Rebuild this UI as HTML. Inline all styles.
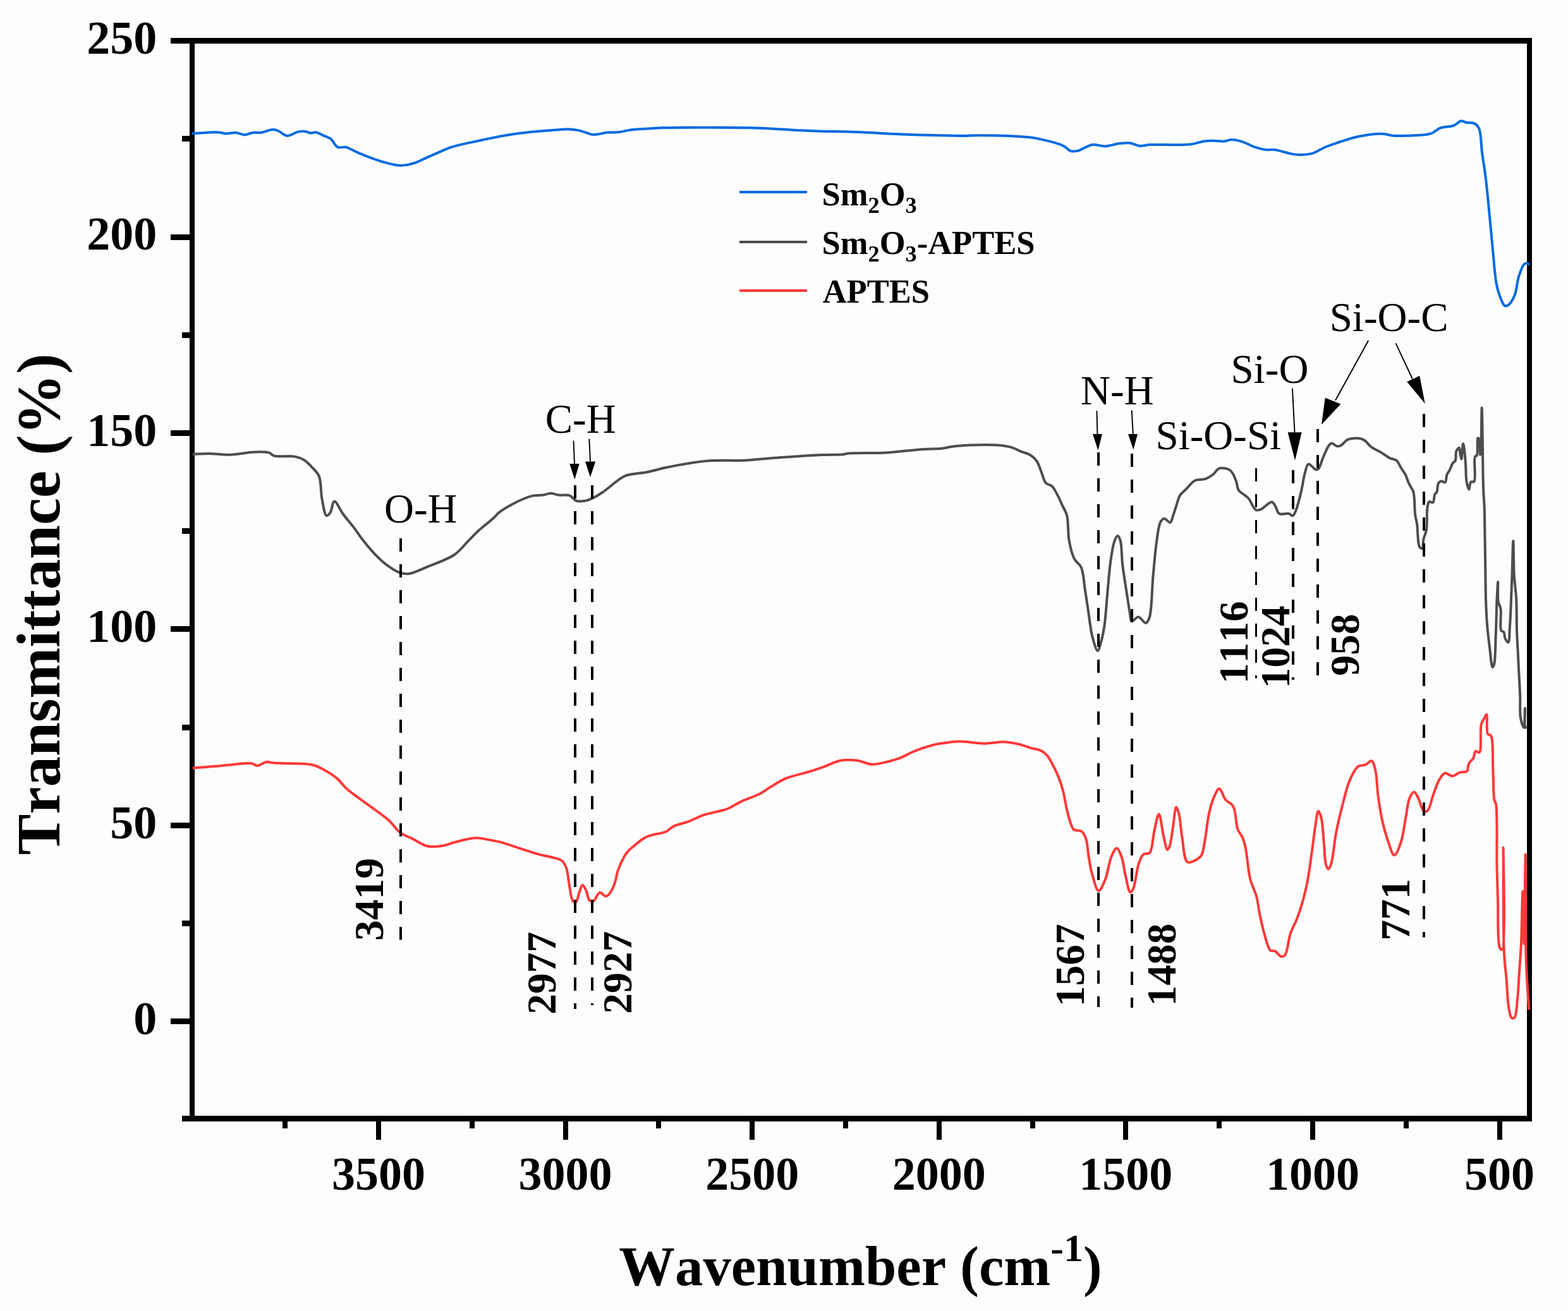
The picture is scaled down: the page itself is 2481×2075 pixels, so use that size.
<!DOCTYPE html>
<html><head><meta charset="utf-8"><title>FTIR spectra</title>
<style>
html,body{margin:0;padding:0;background:#fdfdfd;}
body{width:2481px;height:2075px;overflow:hidden;}
svg{display:block;}
text{font-family:"Liberation Serif","Times New Roman",serif;font-kerning:none;}
.b{font-weight:bold;}
</style></head><body>
<svg width="2481" height="2075" viewBox="0 0 2481 2075">
<rect x="0" y="0" width="2481" height="2075" fill="#fdfdfd"/>
<g fill="#000">
<rect x="300" y="60" width="8" height="1715"/>
<rect x="2416" y="60" width="8" height="1715"/>
<rect x="270" y="60" width="2154" height="9"/>
<rect x="288" y="1766" width="2136" height="9"/>
<rect x="270" y="371" width="31" height="9"/>
<rect x="270" y="681" width="31" height="9"/>
<rect x="270" y="991" width="31" height="9"/>
<rect x="270" y="1302" width="31" height="9"/>
<rect x="270" y="1612" width="31" height="9"/>
<rect x="288" y="215" width="13" height="9"/>
<rect x="288" y="526" width="13" height="9"/>
<rect x="288" y="836" width="13" height="9"/>
<rect x="288" y="1147" width="13" height="9"/>
<rect x="288" y="1457" width="13" height="9"/>
<rect x="595" y="1770" width="8" height="34"/>
<rect x="891" y="1770" width="8" height="34"/>
<rect x="1186" y="1770" width="8" height="34"/>
<rect x="1482" y="1770" width="8" height="34"/>
<rect x="1777" y="1770" width="8" height="34"/>
<rect x="2073" y="1770" width="8" height="34"/>
<rect x="2369" y="1770" width="8" height="34"/>
<rect x="447" y="1770" width="8" height="16"/>
<rect x="743" y="1770" width="8" height="16"/>
<rect x="1038" y="1770" width="8" height="16"/>
<rect x="1334" y="1770" width="8" height="16"/>
<rect x="1630" y="1770" width="8" height="16"/>
<rect x="1925" y="1770" width="8" height="16"/>
<rect x="2221" y="1770" width="8" height="16"/>
</g>
<defs><clipPath id="pc"><rect x="303.5" y="60" width="2117.5" height="1715"/></clipPath></defs>
<g clip-path="url(#pc)" fill="none" stroke-width="4" stroke-linejoin="round" stroke-linecap="butt">
<path stroke="rgb(0,107,224)" d="M304.0,211.4 C317.9,210.7 336.2,208.8 345.7,209.4 C350.7,209.7 352.9,211.2 357.0,211.4 C361.8,211.6 367.8,209.6 372.9,210.0 C377.8,210.4 382.4,213.4 387.0,213.4 C391.4,213.4 395.5,210.6 400.0,210.0 C404.5,209.4 409.1,210.4 414.0,209.7 C419.5,208.9 426.6,205.2 431.4,205.1 C434.8,205.0 436.9,205.8 440.0,207.0 C444.3,208.6 449.2,214.5 454.3,214.9 C459.7,215.3 466.2,209.7 471.4,208.6 C475.6,207.7 479.5,207.6 483.0,208.0 C486.1,208.4 488.6,210.4 491.4,210.6 C494.2,210.8 497.0,209.0 500.0,209.4 C503.6,209.9 507.6,212.6 511.4,214.3 C515.2,216.0 519.4,216.7 522.9,219.4 C527.1,222.6 529.9,230.8 534.3,232.9 C538.1,234.7 542.5,231.9 547.0,232.9 C552.8,234.1 559.3,238.7 565.7,241.4 C572.2,244.2 578.8,246.9 585.7,249.4 C593.0,252.1 600.7,254.9 608.6,257.0 C616.9,259.2 626.0,262.0 634.3,262.0 C642.1,262.0 650.4,259.8 657.0,257.7 C662.3,256.0 665.5,253.9 671.0,251.4 C678.9,247.9 692.0,242.0 700.0,238.6 C705.6,236.3 708.2,234.8 714.3,232.9 C724.6,229.6 742.7,226.0 757.0,222.9 C771.3,219.8 785.6,216.7 800.0,214.3 C814.3,211.9 830.1,210.0 843.0,208.6 C853.4,207.5 861.9,207.0 871.4,206.3 C880.9,205.6 891.7,204.4 900.0,204.6 C906.4,204.8 911.2,205.3 917.0,206.6 C923.5,208.0 931.4,212.2 937.0,212.9 C940.9,213.4 943.5,212.8 947.0,212.3 C951.1,211.8 955.2,210.3 960.0,209.7 C965.9,209.0 973.6,209.8 980.0,209.1 C985.9,208.4 990.9,206.5 997.0,205.7 C1004.1,204.7 1011.9,204.5 1020.0,204.0 C1029.0,203.4 1035.5,202.7 1048.6,202.3 C1077.2,201.4 1153.7,201.6 1185.7,202.3 C1203.0,202.7 1213.5,203.4 1225.7,204.0 C1235.9,204.5 1243.8,205.2 1254.0,205.7 C1266.2,206.3 1279.2,206.9 1294.0,207.4 C1312.6,208.0 1336.0,208.3 1357.0,209.1 C1378.0,209.9 1398.8,211.4 1420.0,212.3 C1441.7,213.2 1466.1,213.9 1485.7,214.3 C1501.5,214.7 1517.0,215.0 1528.6,214.9 C1536.5,214.8 1539.8,214.3 1548.6,214.3 C1565.9,214.4 1607.6,215.3 1625.7,217.1 C1635.6,218.1 1641.0,219.3 1648.6,220.9 C1656.2,222.5 1665.1,224.7 1671.4,226.6 C1675.9,228.0 1679.2,228.9 1682.9,230.9 C1686.9,233.0 1690.3,237.9 1694.3,239.1 C1697.9,240.2 1701.3,239.6 1705.7,238.6 C1712.1,237.2 1721.1,230.2 1728.6,229.1 C1735.4,228.2 1741.7,231.6 1748.6,231.4 C1756.0,231.1 1764.3,227.9 1771.4,227.1 C1777.5,226.4 1783.2,225.9 1788.6,226.6 C1793.6,227.3 1797.9,230.4 1802.9,230.9 C1808.3,231.4 1812.5,229.5 1820.0,229.1 C1834.4,228.3 1867.2,230.4 1882.9,228.6 C1892.5,227.5 1898.6,224.3 1905.7,223.4 C1911.8,222.6 1917.5,222.8 1922.9,222.9 C1927.8,223.0 1932.6,224.1 1937.0,223.7 C1941.1,223.3 1944.3,221.0 1948.6,220.9 C1953.7,220.8 1959.9,222.5 1965.7,224.3 C1972.2,226.3 1979.2,230.7 1985.7,232.9 C1991.6,234.9 1997.4,236.4 2002.9,237.1 C2007.8,237.7 2011.6,236.5 2017.0,237.1 C2024.4,238.0 2035.5,242.1 2042.9,243.4 C2048.3,244.4 2052.1,245.0 2057.0,245.1 C2062.4,245.2 2069.8,244.3 2074.0,243.4 C2076.5,242.9 2077.5,242.4 2080.0,241.4 C2084.6,239.5 2092.4,234.7 2098.8,232.0 C2105.0,229.4 2110.5,227.8 2117.6,225.5 C2126.8,222.5 2138.3,218.3 2149.5,216.0 C2161.4,213.6 2177.0,211.4 2187.0,211.7 C2193.8,211.9 2197.9,214.2 2204.0,214.7 C2211.0,215.3 2218.1,215.1 2226.6,214.7 C2237.6,214.2 2254.8,214.5 2264.2,211.4 C2270.6,209.3 2273.6,204.4 2279.2,202.3 C2285.4,200.0 2294.2,200.9 2300.0,198.8 C2304.7,197.1 2308.2,192.1 2312.0,191.6 C2315.0,191.2 2317.5,193.4 2320.6,194.0 C2324.3,194.7 2329.5,193.7 2332.8,195.4 C2336.0,197.0 2338.4,199.6 2340.3,203.8 C2343.8,211.5 2343.3,228.7 2345.0,241.4 C2346.8,254.4 2348.9,266.7 2350.7,280.9 C2352.8,297.6 2354.5,316.8 2356.3,335.4 C2358.2,355.0 2360.1,376.2 2362.0,395.6 C2363.8,413.7 2365.1,434.8 2367.6,448.2 C2369.2,456.8 2370.8,462.7 2373.2,468.9 C2375.3,474.4 2377.8,482.4 2380.8,483.9 C2382.5,484.8 2384.5,484.2 2386.4,483.0 C2389.8,480.8 2394.0,473.5 2396.7,467.0 C2400.1,458.8 2400.3,445.8 2403.3,437.0 C2405.8,429.6 2408.9,419.3 2412.7,417.2 C2415.0,416.0 2417.7,417.8 2420.2,418.1"/>
<path stroke="rgb(77,77,77)" d="M304.8,719.0 C313.5,718.6 321.7,717.8 331.0,717.9 C341.4,718.0 352.8,720.1 364.3,719.8 C376.6,719.5 391.2,715.8 402.4,715.5 C411.2,715.2 420.8,714.9 426.2,716.7 C429.5,717.8 429.8,720.3 433.3,721.4 C440.2,723.6 458.0,720.9 466.7,722.6 C472.6,723.8 476.5,725.2 481.0,728.0 C486.1,731.1 491.1,736.7 495.2,741.2 C498.9,745.3 502.5,748.1 504.8,753.8 C508.4,762.4 507.3,779.0 509.5,790.0 C511.4,799.5 513.4,815.2 516.7,816.2 C518.4,816.8 520.9,813.8 522.6,811.4 C525.3,807.6 526.0,794.0 529.0,793.6 C532.5,793.2 537.8,806.9 542.9,813.8 C548.6,821.5 556.4,830.3 561.9,837.6 C566.4,843.6 569.2,848.4 573.8,854.3 C579.3,861.4 586.6,870.2 592.9,876.9 C598.5,882.7 603.2,887.6 609.5,892.4 C616.5,897.7 626.1,904.4 633.3,906.7 C638.5,908.4 642.1,908.7 647.6,907.9 C655.6,906.8 665.8,901.4 676.2,897.1 C689.1,891.8 707.7,885.7 719.0,878.0 C728.1,871.8 733.8,863.4 740.5,856.7 C746.4,850.8 750.9,845.6 757.0,840.0 C763.9,833.7 774.0,826.3 780.0,820.8 C784.1,817.1 785.8,814.2 790.0,810.9 C795.8,806.4 804.1,801.4 812.2,797.2 C821.2,792.6 833.2,787.0 841.9,784.9 C848.3,783.4 853.9,784.4 859.2,783.6 C863.7,782.9 867.5,780.7 871.6,780.7 C875.7,780.7 879.5,783.0 884.0,783.6 C889.3,784.3 896.6,782.3 901.3,784.1 C905.4,785.6 907.4,790.8 911.2,792.3 C914.9,793.7 919.3,793.6 923.6,793.0 C928.4,792.4 933.7,790.3 938.5,788.1 C943.6,785.8 947.9,782.9 953.4,779.2 C960.7,774.2 971.0,764.8 978.0,760.1 C982.7,756.9 985.1,754.7 990.5,752.7 C998.9,749.6 1014.2,749.2 1025.0,747.0 C1034.7,745.0 1042.4,742.5 1052.4,740.3 C1064.4,737.7 1079.2,734.8 1092.0,732.9 C1103.9,731.1 1114.1,729.8 1126.7,729.1 C1141.7,728.2 1159.7,729.4 1176.2,728.7 C1192.7,728.0 1207.5,726.0 1225.7,724.7 C1248.0,723.1 1280.1,720.8 1300.0,720.0 C1313.3,719.4 1325.6,720.1 1333.3,719.3 C1337.5,718.9 1338.3,718.1 1342.9,717.6 C1354.2,716.5 1382.6,717.5 1402.4,716.4 C1422.3,715.3 1445.6,712.1 1461.9,711.0 C1473.1,710.3 1482.3,710.7 1490.5,709.8 C1496.8,709.1 1500.8,707.5 1507.1,706.7 C1515.3,705.6 1525.2,704.9 1535.7,704.5 C1548.5,704.0 1566.8,703.6 1578.6,704.5 C1587.0,705.2 1593.4,706.0 1600.0,707.9 C1606.0,709.7 1611.6,713.2 1616.7,715.2 C1621.0,716.9 1624.8,717.1 1628.6,719.3 C1632.8,721.8 1637.4,725.6 1640.5,730.0 C1643.8,734.7 1645.2,741.0 1647.6,746.7 C1650.0,752.5 1651.3,760.7 1654.8,764.5 C1657.4,767.3 1661.6,766.9 1664.3,769.3 C1667.2,771.9 1669.0,775.8 1671.4,780.0 C1674.6,785.6 1678.1,793.9 1681.0,800.2 C1683.6,805.7 1686.4,809.1 1688.1,815.7 C1690.8,825.8 1689.4,844.0 1691.7,856.2 C1693.7,866.7 1696.1,877.4 1700.0,884.8 C1702.9,890.4 1708.0,892.0 1710.7,897.9 C1714.5,906.3 1714.9,921.2 1716.7,932.4 C1718.4,943.0 1719.6,952.0 1721.4,963.3 C1723.5,977.0 1725.3,996.4 1728.6,1008.6 C1730.9,1017.2 1734.4,1030.0 1736.9,1030.0 C1739.1,1030.0 1741.2,1019.4 1742.9,1013.3 C1744.9,1006.1 1746.2,999.0 1747.6,989.5 C1749.6,975.5 1750.8,954.1 1752.4,937.1 C1753.9,920.8 1755.1,903.8 1757.1,889.5 C1758.8,877.7 1760.5,864.8 1763.1,857.4 C1764.6,853.1 1766.6,847.9 1768.3,847.9 C1769.8,847.9 1771.4,851.5 1772.6,855.0 C1775.1,862.7 1774.6,880.6 1776.2,894.3 C1778.0,909.4 1781.2,928.1 1783.3,941.9 C1784.9,952.4 1786.3,962.2 1787.7,969.8 C1788.7,975.1 1788.2,982.3 1790.6,983.3 C1792.9,984.3 1797.7,976.4 1801.3,976.6 C1805.2,976.9 1809.9,986.6 1812.9,986.2 C1815.4,985.8 1817.1,982.1 1818.7,977.5 C1822.7,966.0 1822.5,932.8 1824.5,911.7 C1826.4,892.2 1827.9,871.1 1830.3,855.5 C1832.0,844.2 1833.0,832.2 1836.1,826.5 C1837.7,823.5 1839.7,820.9 1842.0,820.7 C1844.7,820.4 1849.2,827.7 1851.6,826.9 C1854.1,826.1 1854.9,819.1 1856.5,814.9 C1858.2,810.3 1859.6,805.4 1861.3,800.4 C1863.1,795.1 1864.3,788.4 1867.1,783.9 C1869.6,779.9 1873.3,777.7 1876.8,774.2 C1880.9,770.1 1885.1,763.4 1890.4,760.7 C1895.5,758.1 1902.7,759.6 1907.8,757.8 C1912.2,756.2 1915.9,753.7 1919.4,751.0 C1923.0,748.2 1925.1,742.7 1929.1,741.3 C1933.4,739.8 1940.9,741.5 1944.6,743.3 C1947.3,744.6 1948.7,746.6 1950.4,749.1 C1952.7,752.5 1954.6,758.0 1956.2,762.6 C1957.8,767.1 1957.6,772.6 1960.0,776.2 C1962.2,779.6 1966.9,781.6 1969.7,783.9 C1971.9,785.7 1973.4,786.4 1975.5,788.8 C1979.0,792.8 1983.1,805.1 1987.2,807.1 C1989.7,808.3 1992.0,807.3 1994.9,806.2 C1999.7,804.4 2008.2,794.0 2012.3,794.6 C2015.0,795.0 2016.3,798.6 2018.1,801.3 C2020.3,804.6 2020.7,811.0 2024.0,813.0 C2027.6,815.2 2035.6,812.0 2039.4,813.0 C2041.9,813.7 2043.5,816.8 2045.2,816.4 C2047.1,816.0 2048.4,812.5 2050.0,809.1 C2053.0,802.5 2056.3,788.3 2058.8,778.1 C2061.2,768.3 2062.3,757.0 2064.6,749.1 C2066.3,743.3 2067.4,735.3 2070.4,734.5 C2073.3,733.7 2079.0,742.7 2082.0,743.3 C2083.6,743.6 2084.6,743.4 2085.9,742.3 C2088.7,739.9 2090.9,730.0 2093.6,723.9 C2096.4,717.7 2099.5,709.2 2102.4,705.5 C2104.0,703.5 2105.3,701.7 2107.2,701.6 C2109.4,701.4 2112.5,705.6 2115.0,706.1 C2117.0,706.5 2118.7,706.4 2120.8,705.5 C2124.2,704.1 2128.7,697.6 2132.4,695.8 C2135.0,694.5 2137.2,694.3 2140.0,694.0 C2143.5,693.6 2148.4,693.3 2151.8,694.0 C2154.6,694.5 2156.7,695.3 2159.2,697.0 C2162.6,699.3 2165.8,704.5 2169.6,707.4 C2173.3,710.2 2178.0,712.0 2181.5,714.0 C2184.3,715.6 2186.2,716.8 2188.9,718.5 C2192.1,720.5 2195.7,723.4 2199.2,725.1 C2202.6,726.8 2206.7,726.5 2209.6,728.8 C2212.8,731.4 2214.5,736.7 2217.0,740.7 C2219.5,744.6 2222.4,748.5 2224.4,752.5 C2226.3,756.4 2227.0,760.6 2228.8,764.4 C2230.5,768.0 2233.4,772.3 2234.7,774.7 C2235.4,776.0 2235.8,776.4 2236.2,777.7 C2236.9,780.1 2237.3,783.8 2237.7,788.0 C2238.4,794.8 2238.3,807.1 2239.2,814.7 C2239.9,820.4 2241.3,823.7 2242.1,829.5 C2243.2,837.6 2243.2,852.6 2244.4,859.1 C2245.0,862.4 2245.3,865.1 2246.6,866.5 C2247.5,867.5 2249.4,868.5 2250.3,868.0 C2252.1,867.0 2251.4,858.1 2252.5,853.2 C2253.6,848.2 2256.0,844.4 2257.0,838.4 C2258.5,829.4 2257.1,812.3 2258.4,804.3 C2259.1,799.8 2259.5,795.1 2261.4,794.0 C2262.8,793.2 2265.9,796.3 2267.3,795.4 C2269.5,794.0 2268.8,784.8 2270.3,782.1 C2271.1,780.6 2272.4,780.7 2273.2,779.2 C2274.8,776.3 2274.3,767.3 2276.2,764.4 C2277.3,762.7 2279.0,761.6 2280.6,761.4 C2282.4,761.2 2285.1,764.4 2286.6,763.6 C2288.7,762.5 2288.1,754.5 2289.5,751.0 C2290.7,748.1 2292.6,746.3 2294.0,743.6 C2295.6,740.5 2296.7,735.9 2298.4,733.3 C2299.7,731.3 2301.8,731.0 2302.8,728.8 C2304.4,725.5 2302.8,717.5 2304.3,714.0 C2305.3,711.6 2307.8,708.5 2308.8,708.8 C2309.9,709.1 2309.6,714.2 2310.2,717.0 C2310.8,720.1 2311.9,726.6 2312.5,726.6 C2313.3,726.5 2313.5,714.1 2314.0,709.6 C2314.3,706.6 2314.6,702.2 2315.0,702.2 C2315.5,702.2 2316.3,707.3 2316.9,711.0 C2317.8,717.2 2318.5,727.7 2319.1,736.2 C2319.7,745.0 2319.3,755.9 2320.6,762.9 C2321.5,767.7 2323.2,774.7 2324.3,774.7 C2325.4,774.7 2325.3,764.7 2327.3,762.9 C2328.6,761.7 2331.1,763.6 2332.4,762.1 C2336.0,758.1 2331.3,727.8 2333.9,722.9 C2334.7,721.4 2336.1,722.1 2336.9,720.7 C2339.0,716.8 2336.5,694.2 2338.4,693.3 C2339.0,693.0 2340.0,693.8 2340.6,694.8 C2342.4,698.0 2341.6,720.0 2342.1,720.0 C2342.6,720.0 2343.2,705.7 2343.6,696.3 C2344.2,682.5 2344.2,645.2 2344.6,645.2 C2345.0,645.2 2345.5,679.0 2345.8,696.3 C2346.1,714.2 2346.2,735.8 2346.5,751.0 C2346.7,761.9 2346.9,770.2 2347.3,779.2 C2347.7,787.4 2348.3,793.6 2348.7,802.8 C2349.2,815.9 2349.2,833.5 2349.5,850.2 C2349.8,869.0 2350.1,892.3 2350.4,910.0 C2350.6,924.2 2350.6,935.3 2351.0,948.3 C2351.4,961.7 2352.0,975.9 2353.1,989.3 C2354.1,1002.1 2355.8,1015.2 2357.3,1026.9 C2358.6,1037.2 2359.8,1055.7 2361.6,1056.0 C2362.4,1056.1 2363.5,1053.6 2364.2,1050.9 C2366.2,1043.5 2366.0,1022.0 2366.7,1006.4 C2367.5,989.1 2367.7,967.4 2368.4,951.8 C2368.9,940.1 2369.8,921.0 2370.2,921.0 C2370.6,921.0 2369.3,944.0 2370.6,951.8 C2371.4,956.8 2373.6,958.6 2374.5,963.7 C2375.9,972.1 2372.6,993.1 2375.3,997.9 C2376.3,999.7 2378.5,999.1 2379.5,1000.5 C2380.9,1002.5 2380.1,1007.1 2381.3,1009.8 C2382.4,1012.4 2385.1,1017.0 2386.4,1016.7 C2388.6,1016.1 2388.3,1000.2 2389.0,991.0 C2389.8,980.4 2390.2,968.9 2390.7,956.9 C2391.3,943.5 2391.8,929.5 2392.4,914.2 C2393.0,896.3 2393.7,855.9 2394.3,855.9 C2394.9,855.9 2394.8,894.3 2395.8,910.8 C2396.6,924.5 2398.5,935.0 2399.2,948.3 C2400.0,963.3 2399.5,981.2 2400.0,996.2 C2400.4,1009.5 2401.2,1021.6 2401.8,1033.8 C2402.4,1045.5 2402.9,1056.6 2403.5,1068.0 C2404.1,1079.3 2404.8,1090.6 2405.2,1102.0 C2405.6,1113.4 2404.4,1127.2 2406.0,1136.3 C2407.1,1142.5 2410.0,1151.9 2411.2,1151.7 C2412.8,1151.5 2412.5,1120.9 2412.9,1120.9 C2413.3,1120.9 2411.7,1150.7 2413.7,1151.7 C2414.3,1152.0 2415.2,1150.6 2416.0,1150.0"/>
<path stroke="rgb(255,56,56)" d="M304.8,1215.5 C315.9,1214.7 327.8,1214.0 338.0,1213.1 C346.6,1212.4 353.1,1211.4 361.9,1210.7 C372.6,1209.8 389.6,1207.1 397.6,1208.3 C401.9,1208.9 403.6,1212.0 407.1,1211.9 C411.4,1211.8 416.8,1206.6 421.4,1206.0 C425.5,1205.5 428.6,1207.2 433.3,1207.6 C439.9,1208.1 448.2,1207.9 457.1,1208.3 C468.3,1208.8 485.7,1208.5 495.2,1210.7 C501.3,1212.1 504.3,1213.9 509.5,1216.7 C516.6,1220.4 526.7,1226.5 533.3,1232.1 C539.0,1236.9 542.4,1242.8 547.6,1247.6 C552.8,1252.4 558.3,1256.2 564.3,1260.7 C570.9,1265.7 578.1,1270.6 585.7,1276.2 C594.6,1282.7 606.0,1290.2 614.3,1297.6 C621.6,1304.1 626.5,1312.8 633.3,1317.9 C639.3,1322.4 645.7,1324.1 652.4,1327.4 C659.9,1331.1 668.0,1337.5 676.2,1339.3 C683.9,1341.0 692.6,1339.9 700.0,1338.8 C706.8,1337.8 711.7,1335.1 719.0,1333.3 C728.5,1330.9 741.8,1326.5 752.4,1326.2 C762.0,1325.9 772.7,1329.2 780.0,1330.5 C784.8,1331.4 787.0,1331.6 791.9,1332.9 C800.3,1335.1 814.8,1340.3 825.2,1343.6 C834.5,1346.6 842.4,1349.4 851.4,1351.9 C860.7,1354.5 873.1,1356.4 880.0,1358.6 C884.1,1359.9 886.9,1360.2 889.5,1362.6 C892.7,1365.5 894.9,1370.6 896.7,1375.7 C898.8,1381.8 898.8,1389.5 900.2,1397.1 C901.9,1406.0 903.0,1421.5 906.2,1425.7 C907.6,1427.5 909.6,1428.7 911.0,1428.1 C913.6,1427.1 914.9,1416.3 916.9,1411.4 C918.5,1407.4 919.9,1400.8 921.7,1400.7 C923.5,1400.6 925.9,1406.6 927.6,1410.2 C929.6,1414.4 929.9,1421.9 932.4,1424.5 C934.0,1426.2 936.3,1427.5 938.3,1426.9 C941.7,1426.0 945.2,1413.3 949.0,1412.6 C952.0,1412.0 955.7,1418.8 958.6,1418.6 C961.2,1418.4 963.6,1415.4 965.7,1412.6 C968.6,1408.8 971.0,1402.6 972.9,1397.1 C975.0,1391.2 975.4,1384.5 977.6,1378.1 C980.0,1371.1 983.9,1362.4 987.1,1356.7 C989.5,1352.6 991.4,1349.9 994.3,1346.7 C997.6,1343.1 1002.0,1339.8 1006.2,1336.4 C1010.7,1332.8 1016.1,1328.1 1020.5,1325.7 C1023.9,1323.9 1026.1,1323.3 1030.0,1322.1 C1036.1,1320.2 1047.4,1319.1 1053.8,1316.2 C1058.7,1314.0 1060.8,1310.3 1065.7,1307.9 C1072.1,1304.7 1081.6,1303.2 1089.5,1300.2 C1097.5,1297.2 1105.3,1292.7 1113.3,1290.0 C1121.1,1287.4 1130.2,1285.8 1137.1,1284.0 C1142.5,1282.6 1146.3,1282.1 1151.4,1280.0 C1158.0,1277.4 1165.1,1272.3 1172.9,1268.6 C1181.6,1264.5 1193.0,1261.0 1201.4,1256.7 C1208.6,1253.0 1213.7,1248.8 1220.5,1244.8 C1227.9,1240.4 1235.3,1235.4 1244.3,1231.7 C1254.8,1227.4 1269.3,1224.8 1280.0,1221.5 C1288.8,1218.8 1295.7,1216.5 1303.8,1213.6 C1312.4,1210.6 1321.1,1205.4 1330.0,1203.8 C1338.6,1202.2 1347.7,1202.7 1356.2,1203.8 C1364.4,1204.8 1372.0,1209.5 1380.0,1209.8 C1387.9,1210.1 1396.3,1207.4 1403.8,1205.7 C1410.6,1204.1 1416.3,1202.7 1422.9,1200.2 C1430.5,1197.3 1438.3,1192.4 1446.7,1189.0 C1455.7,1185.4 1466.6,1181.7 1475.2,1179.5 C1482.1,1177.7 1487.6,1177.0 1494.3,1176.0 C1501.8,1174.9 1509.2,1173.7 1518.1,1173.6 C1529.3,1173.5 1543.9,1176.6 1556.2,1176.7 C1567.7,1176.8 1579.4,1173.8 1589.5,1174.3 C1598.1,1174.7 1605.9,1176.5 1613.3,1178.3 C1620.1,1179.9 1626.5,1182.6 1632.4,1184.3 C1637.5,1185.7 1642.6,1185.9 1646.7,1187.9 C1650.4,1189.7 1653.3,1191.8 1656.2,1195.0 C1659.8,1198.9 1662.7,1204.9 1665.7,1210.5 C1669.0,1216.7 1672.4,1223.7 1675.2,1230.7 C1678.0,1237.9 1680.4,1245.6 1682.4,1253.3 C1684.4,1261.1 1685.4,1269.6 1687.1,1277.1 C1688.6,1283.8 1689.9,1290.1 1691.9,1296.2 C1693.9,1302.0 1695.3,1309.8 1699.0,1312.9 C1702.1,1315.5 1707.8,1313.4 1711.0,1315.7 C1714.3,1318.1 1716.3,1322.1 1718.1,1327.1 C1720.9,1334.7 1721.2,1348.5 1722.9,1358.1 C1724.4,1366.6 1725.3,1373.7 1727.6,1381.9 C1730.2,1391.0 1734.4,1409.7 1738.3,1410.0 C1741.6,1410.3 1745.9,1398.8 1749.0,1391.4 C1753.0,1381.6 1754.7,1364.5 1758.6,1355.7 C1761.1,1350.0 1764.2,1342.5 1766.9,1342.6 C1769.7,1342.7 1772.7,1351.3 1774.9,1357.2 C1777.8,1365.1 1778.7,1377.2 1781.0,1386.6 C1783.2,1395.5 1785.6,1411.7 1788.4,1412.3 C1789.9,1412.6 1791.8,1409.4 1793.3,1406.2 C1796.7,1399.0 1798.3,1376.8 1801.8,1367.0 C1804.0,1360.7 1805.8,1355.0 1809.2,1352.3 C1811.9,1350.2 1816.4,1352.6 1819.0,1349.9 C1823.8,1344.9 1823.7,1326.3 1826.3,1315.6 C1828.6,1306.0 1831.4,1288.5 1833.7,1288.6 C1836.3,1288.7 1838.5,1312.8 1841.0,1322.9 C1843.0,1331.1 1845.1,1344.7 1847.2,1345.0 C1848.4,1345.2 1849.7,1341.8 1850.8,1338.9 C1853.0,1333.0 1854.1,1320.5 1855.7,1310.7 C1857.5,1300.1 1858.9,1277.8 1861.1,1277.6 C1862.4,1277.5 1864.2,1283.8 1865.5,1288.6 C1867.7,1297.2 1868.2,1313.0 1870.4,1325.4 C1872.7,1338.3 1873.1,1361.1 1879.0,1364.6 C1882.5,1366.7 1888.7,1362.9 1892.5,1360.9 C1895.9,1359.1 1898.8,1357.3 1901.0,1353.5 C1904.6,1347.5 1905.3,1335.6 1907.2,1325.4 C1909.4,1313.5 1910.5,1298.0 1913.3,1286.2 C1915.6,1276.3 1918.6,1266.0 1921.9,1259.2 C1924.1,1254.5 1926.7,1248.1 1929.2,1248.2 C1932.3,1248.3 1935.1,1260.6 1939.0,1265.4 C1942.6,1269.8 1948.2,1271.0 1951.3,1276.4 C1956.0,1284.6 1955.2,1304.3 1958.6,1313.1 C1960.7,1318.5 1964.0,1320.8 1966.0,1325.4 C1968.2,1330.5 1969.3,1335.3 1970.9,1342.5 C1973.5,1354.6 1974.7,1377.7 1978.2,1391.5 C1980.9,1402.0 1985.5,1409.4 1988.0,1418.5 C1990.4,1427.4 1991.0,1436.1 1992.9,1445.4 C1995.0,1455.6 1997.3,1467.2 2000.3,1477.3 C2003.1,1486.7 2005.8,1500.7 2010.1,1504.2 C2012.3,1506.0 2015.0,1504.2 2017.4,1505.4 C2020.6,1506.9 2024.2,1513.5 2027.2,1514.0 C2029.4,1514.4 2031.5,1513.6 2033.3,1511.5 C2037.4,1506.7 2038.4,1487.3 2041.9,1477.3 C2044.8,1469.0 2048.6,1463.2 2051.7,1455.2 C2055.2,1446.2 2058.7,1435.9 2061.5,1425.8 C2064.4,1415.5 2066.7,1405.8 2068.9,1394.0 C2071.7,1379.5 2074.1,1360.2 2076.2,1345.0 C2078.1,1331.9 2079.3,1319.2 2081.1,1308.2 C2082.6,1299.2 2084.0,1283.9 2086.0,1283.7 C2087.4,1283.6 2089.6,1290.7 2090.9,1296.0 C2093.1,1304.9 2093.4,1320.5 2094.6,1332.7 C2095.8,1345.0 2096.0,1362.5 2098.3,1369.5 C2099.3,1372.6 2100.8,1375.7 2102.0,1375.6 C2103.5,1375.5 2105.2,1370.4 2106.6,1365.7 C2109.6,1355.8 2111.3,1332.6 2114.2,1317.4 C2116.9,1303.6 2119.8,1291.4 2123.2,1278.1 C2126.8,1264.2 2130.3,1247.5 2135.3,1235.9 C2139.2,1226.9 2143.6,1217.1 2148.9,1213.2 C2152.6,1210.5 2157.4,1211.8 2161.0,1210.2 C2164.4,1208.7 2167.6,1203.5 2170.0,1204.2 C2172.8,1205.0 2174.4,1211.9 2176.0,1217.8 C2178.7,1227.8 2178.7,1246.5 2180.6,1260.0 C2182.3,1272.6 2184.0,1284.5 2186.6,1296.3 C2189.1,1307.7 2192.1,1319.4 2195.7,1329.5 C2198.8,1338.3 2202.6,1353.5 2206.2,1353.6 C2209.6,1353.7 2214.0,1340.8 2216.8,1332.5 C2220.5,1321.6 2222.0,1305.4 2224.4,1293.2 C2226.5,1282.5 2227.3,1270.0 2230.4,1263.0 C2232.3,1258.6 2235.0,1253.4 2237.3,1253.4 C2239.6,1253.4 2241.8,1259.0 2244.0,1263.0 C2247.1,1268.6 2249.4,1282.4 2253.0,1284.2 C2254.9,1285.1 2257.3,1284.4 2259.1,1282.7 C2262.9,1279.2 2265.0,1265.3 2268.1,1257.0 C2271.0,1249.2 2273.6,1240.3 2277.2,1234.4 C2279.9,1229.9 2282.6,1224.7 2286.2,1223.8 C2289.7,1222.9 2294.3,1228.5 2298.3,1228.3 C2302.4,1228.1 2306.4,1223.5 2310.4,1222.3 C2314.0,1221.2 2318.7,1222.9 2321.0,1220.8 C2323.5,1218.6 2322.2,1212.3 2324.0,1208.7 C2325.7,1205.2 2329.7,1202.9 2331.5,1199.6 C2333.2,1196.4 2332.6,1190.2 2334.6,1189.1 C2336.1,1188.3 2339.2,1191.9 2340.8,1190.8 C2345.0,1187.8 2341.3,1155.3 2343.8,1146.2 C2345.0,1141.8 2347.0,1139.7 2348.5,1137.0 C2349.8,1134.7 2351.3,1130.6 2352.2,1130.8 C2354.1,1131.3 2351.1,1156.7 2354.0,1161.5 C2355.3,1163.6 2357.8,1162.3 2359.2,1164.6 C2363.3,1171.3 2361.4,1199.7 2362.3,1216.9 C2363.2,1233.6 2362.6,1257.7 2364.5,1266.2 C2365.2,1269.3 2366.3,1268.9 2367.0,1272.3 C2369.7,1285.3 2367.9,1343.1 2368.5,1370.8 C2368.9,1390.9 2369.4,1403.9 2370.0,1423.0 C2370.8,1446.2 2368.8,1491.7 2373.0,1500.0 C2374.1,1502.1 2375.7,1503.5 2376.8,1503.0 C2383.1,1500.0 2378.1,1341.5 2378.6,1341.5 C2379.1,1341.5 2378.0,1468.0 2379.8,1506.0 C2380.7,1526.2 2382.6,1537.4 2383.8,1552.3 C2384.9,1566.1 2385.2,1581.6 2386.9,1592.3 C2388.1,1599.7 2388.9,1608.8 2391.5,1610.8 C2392.8,1611.8 2394.9,1611.9 2396.2,1610.8 C2399.8,1607.8 2400.1,1588.5 2401.4,1577.0 C2402.7,1565.0 2402.9,1553.0 2403.8,1540.0 C2404.8,1525.5 2406.0,1511.4 2406.9,1493.8 C2408.0,1470.2 2408.6,1410.8 2409.4,1410.8 C2410.2,1410.8 2410.9,1493.8 2411.5,1493.8 C2412.3,1493.8 2413.1,1352.3 2413.7,1352.3 C2414.3,1352.3 2413.4,1479.2 2414.9,1524.6 C2415.9,1554.4 2417.8,1573.9 2419.2,1598.5"/>
</g>
<g stroke="#000" stroke-dasharray="21 20" fill="none">
<line x1="634" y1="852" x2="634" y2="1487.6" stroke-width="4"/>
<line x1="910" y1="768" x2="910" y2="1597" stroke-width="4"/>
<line x1="937" y1="768" x2="937" y2="1591" stroke-width="4"/>
<line x1="1738" y1="716" x2="1738" y2="1594" stroke-width="4"/>
<line x1="1791" y1="718" x2="1791" y2="1595" stroke-width="4"/>
<line x1="1987.5" y1="741" x2="1987.5" y2="1073.6" stroke-width="3"/>
<line x1="2046" y1="744" x2="2046" y2="1076" stroke-width="4"/>
<line x1="2085" y1="679" x2="2085" y2="1070" stroke-width="4"/>
<line x1="2253" y1="655" x2="2253" y2="1483.5" stroke-width="4"/>
</g>
<g stroke="#000" stroke-width="1.9" fill="#000">
<line x1="907.5" y1="697.5" x2="909" y2="734"/>
<polygon stroke="none" points="901.3,734.0 916.7,734.0 909.3,758.9"/>
<line x1="932.3" y1="694.5" x2="934" y2="730.4"/>
<polygon stroke="none" points="926.0,730.4 942.2,730.4 934.0,755.2"/>
<line x1="1735.4" y1="650.2" x2="1736.4" y2="687"/>
<polygon stroke="none" points="1729.0,687.0 1744.0,687.0 1737.4,712.8"/>
<line x1="1790.7" y1="649.5" x2="1792.8" y2="687"/>
<polygon stroke="none" points="1785.0,687.0 1800.0,687.0 1793.3,711.7"/>
<line x1="2044.9" y1="614.8" x2="2048.5" y2="684.3"/>
<polygon stroke="none" points="2037.6,684.3 2059.6,684.3 2049.1,728.7"/>
<line x1="2165.2" y1="539" x2="2112.9" y2="633.8"/>
<polygon stroke="none" points="2096.7,629.6 2121.4,639.5 2091.0,671.9"/>
<line x1="2208.5" y1="543.3" x2="2234.8" y2="599.5"/>
<polygon stroke="none" points="2226.2,604.3 2246.2,594.8 2254.8,639.1"/>
</g>
<g class="b" font-size="74" fill="#000">
<text x="248.3" y="85.0" text-anchor="end">250</text>
<text x="248.3" y="395.4" text-anchor="end">200</text>
<text x="248.3" y="705.8" text-anchor="end">150</text>
<text x="248.3" y="1016.2" text-anchor="end">100</text>
<text x="248.3" y="1326.6" text-anchor="end">50</text>
<text x="248.3" y="1637.0" text-anchor="end">0</text>
<text x="599.0" y="1883.2" text-anchor="middle">3500</text>
<text x="894.6" y="1883.2" text-anchor="middle">3000</text>
<text x="1190.2" y="1883.2" text-anchor="middle">2500</text>
<text x="1485.8" y="1883.2" text-anchor="middle">2000</text>
<text x="1781.3" y="1883.2" text-anchor="middle">1500</text>
<text x="2076.9" y="1883.2" text-anchor="middle">1000</text>
<text x="2372.5" y="1883.2" text-anchor="middle">500</text>
</g>
<text class="b" font-size="96.9" transform="translate(93.8,1353.2) rotate(-90)">Transmittance (%)</text>
<text class="b" font-size="88.8" x="979.2" y="2033.5">Wavenumber (cm<tspan font-size="62" dy="-37.5">-1</tspan><tspan dy="37.5">)</tspan></text>
<g stroke-width="4"><line x1="1170" y1="304" x2="1277" y2="304" stroke="rgb(0,107,224)"/><line x1="1170" y1="383" x2="1277" y2="383" stroke="rgb(77,77,77)"/><line x1="1170" y1="460" x2="1277" y2="460" stroke="rgb(255,56,56)"/></g>
<g class="b" font-size="52.5" fill="#000">
<text x="1300.6" y="324.5">Sm<tspan font-size="36.3" dy="12.5">2</tspan><tspan dy="-12.5">O</tspan><tspan font-size="36.3" dy="12.5">3</tspan></text>
<text x="1300.6" y="401.7">Sm<tspan font-size="36.3" dy="12.5">2</tspan><tspan dy="-12.5">O</tspan><tspan font-size="36.3" dy="12.5">3</tspan><tspan dy="-12.5">-APTES</tspan></text>
<text x="1301.7" y="478.9">APTES</text>
</g>
<g font-size="65" fill="#000">
<text x="608.0" y="827">O-H</text>
<text x="862.7" y="685.3">C-H</text>
<text x="1710.1" y="640">N-H</text>
<text x="1828.5" y="711.2">Si-O-Si</text>
<text x="1947.6" y="606.2">Si-O</text>
<text x="2103.7" y="524.3">Si-O-C</text>
</g>
<g class="b" font-size="65.5" fill="#000">
<text transform="translate(605.6,1488.9) rotate(-90)">3419</text>
<text transform="translate(879.4,1605.75) rotate(-90)">2977</text>
<text transform="translate(998.9,1604.75) rotate(-90)">2927</text>
<text transform="translate(1714.6,1593.2) rotate(-90)">1567</text>
<text transform="translate(1859.9,1592.5) rotate(-90)">1488</text>
<text transform="translate(1973.7,1082.2) rotate(-90)">1116</text>
<text transform="translate(2040.4,1089.5) rotate(-90)">1024</text>
<text transform="translate(2150.4,1069.7) rotate(-90)">958</text>
<text transform="translate(2229.5,1488.7) rotate(-90)">771</text>
</g>
</svg>
</body></html>
